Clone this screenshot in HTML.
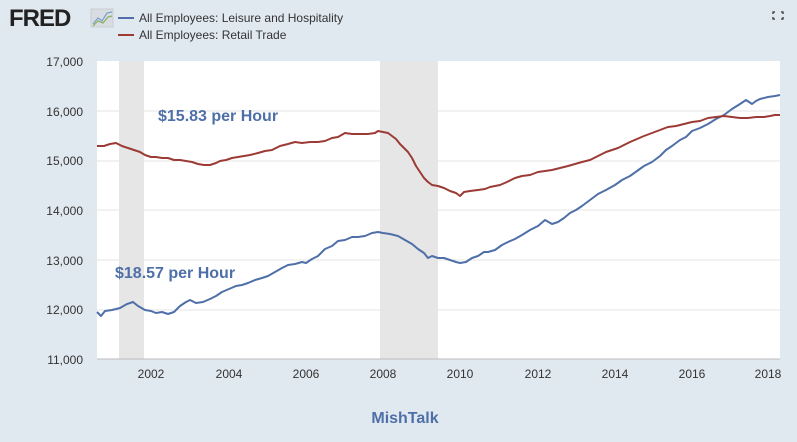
<!DOCTYPE html>
<html><head><meta charset="utf-8"><style>
body{margin:0;width:797px;height:437px;background:#e1e9f0;font-family:"Liberation Sans",sans-serif;overflow:hidden}
</style></head><body>
<svg width="797" height="437" xmlns="http://www.w3.org/2000/svg" font-family="Liberation Sans, sans-serif">
<rect width="797" height="437" fill="#e1e9f0"/>
<text x="9" y="26" font-size="24" font-weight="bold" fill="#222" letter-spacing="-1">FRED</text>
<rect x="91" y="9" width="22" height="18" fill="#d8dde2" stroke="#c8cdd2"/>
<polyline points="93,24 98,18 102,21 107,13 112,12" fill="none" stroke="#7aa0c8" stroke-width="1.2"/>
<polyline points="93,26 98,21 103,23 108,17 112,16" fill="none" stroke="#8ab060" stroke-width="1.2"/>
<line x1="118" y1="18" x2="134" y2="18" stroke="#4e6fa8" stroke-width="2"/>
<line x1="118" y1="35" x2="134" y2="35" stroke="#9c3b36" stroke-width="2"/>
<text x="139" y="22" font-size="12" fill="#333">All Employees: Leisure and Hospitality</text>
<text x="139" y="39" font-size="12" fill="#333">All Employees: Retail Trade</text>
<g fill="none" stroke="#333" stroke-width="1.3"><path d="M775 12h-2v2M781 12h2v2M775 19h-2v-2M781 19h2v-2"/></g>
<rect x="97" y="61" width="683" height="298" fill="#fff"/>
<rect x="119" y="61" width="25" height="298" fill="#e6e6e6"/>
<rect x="380" y="61" width="58" height="298" fill="#e6e6e6"/>
<g stroke="#e6e6e6" stroke-width="1">
<line x1="97" y1="111" x2="780" y2="111"/><line x1="97" y1="161" x2="780" y2="161"/><line x1="97" y1="210" x2="780" y2="210"/><line x1="97" y1="260" x2="780" y2="260"/><line x1="97" y1="310" x2="780" y2="310"/>
</g>
<line x1="97" y1="359" x2="780" y2="359" stroke="#bbb"/>
<g font-size="12" fill="#333" text-anchor="end">
<text x="83" y="66">17,000</text><text x="83" y="116">16,000</text><text x="83" y="165">15,000</text><text x="83" y="215">14,000</text><text x="83" y="265">13,000</text><text x="83" y="314">12,000</text><text x="83" y="364">11,000</text>
</g>
<g font-size="12" fill="#333" text-anchor="middle">
<text x="151" y="378">2002</text><text x="229" y="378">2004</text><text x="306" y="378">2006</text><text x="383" y="378">2008</text><text x="460" y="378">2010</text><text x="538" y="378">2012</text><text x="615" y="378">2014</text><text x="692" y="378">2016</text><text x="768" y="378">2018</text>
</g>
<polyline fill="none" stroke="#4e6fa8" stroke-width="2" stroke-linejoin="round" points="97,312 101,316 105,311 112,310 120,308 127,304 133,302 138,306 145,310 151,311 156,313 162,312 168,314 174,312 180,306 186,302 190,300 196,303 203,302 210,299 216,296 222,292 229,289 236,286 242,285 248,283 255,280 262,278 268,276 275,272 282,268 288,265 295,264 302,262 306,263 312,259 318,256 325,249 332,246 338,241 345,240 352,237 358,237 365,236 372,233 378,232 383,233 390,234 398,236 405,240 412,244 418,249 424,253 428,258 432,256 438,258 444,258 450,260 456,262 460,263 466,262 472,258 478,256 484,252 488,252 495,250 502,245 508,242 515,239 522,235 530,230 538,226 545,220 552,224 558,222 564,218 570,213 576,210 582,206 590,200 598,194 606,190 615,185 622,180 630,176 637,171 644,166 652,162 660,156 666,150 672,146 680,140 686,137 692,131 700,128 708,124 716,119 724,115 732,109 740,104 746,100 752,104 756,101 760,99 768,97 775,96 780,95"/>
<polyline fill="none" stroke="#9c3b36" stroke-width="2" stroke-linejoin="round" points="97,146 104,146 110,144 116,143 122,146 128,148 134,150 140,152 145,155 151,157 156,157 162,158 168,158 174,160 180,160 186,161 192,162 198,164 204,165 210,165 216,163 220,161 226,160 232,158 238,157 244,156 250,155 258,153 265,151 272,150 280,146 288,144 295,142 302,143 310,142 318,142 325,141 332,138 338,137 345,133 352,134 360,134 368,134 375,133 378,131 383,132 388,133 392,136 396,139 400,144 404,148 408,152 412,158 416,166 420,172 424,178 428,182 432,185 438,186 444,188 450,191 456,193 460,196 464,192 470,191 478,190 485,189 490,187 495,186 500,185 507,182 515,178 522,176 530,175 538,172 545,171 552,170 560,168 568,166 575,164 582,162 590,160 598,156 606,152 612,150 618,148 624,145 630,142 637,139 644,136 652,133 660,130 668,127 676,126 684,124 692,122 700,121 708,118 716,117 724,116 732,117 740,118 748,118 756,117 764,117 770,116 775,115 780,115"/>
<text x="158" y="121" font-size="16" font-weight="bold" fill="#4e6fa8">$15.83 per Hour</text>
<text x="115" y="278" font-size="16" font-weight="bold" fill="#4e6fa8">$18.57 per Hour</text>
<text x="405" y="423" font-size="16" font-weight="bold" fill="#4e6fa8" text-anchor="middle">MishTalk</text>
</svg>
</body></html>
